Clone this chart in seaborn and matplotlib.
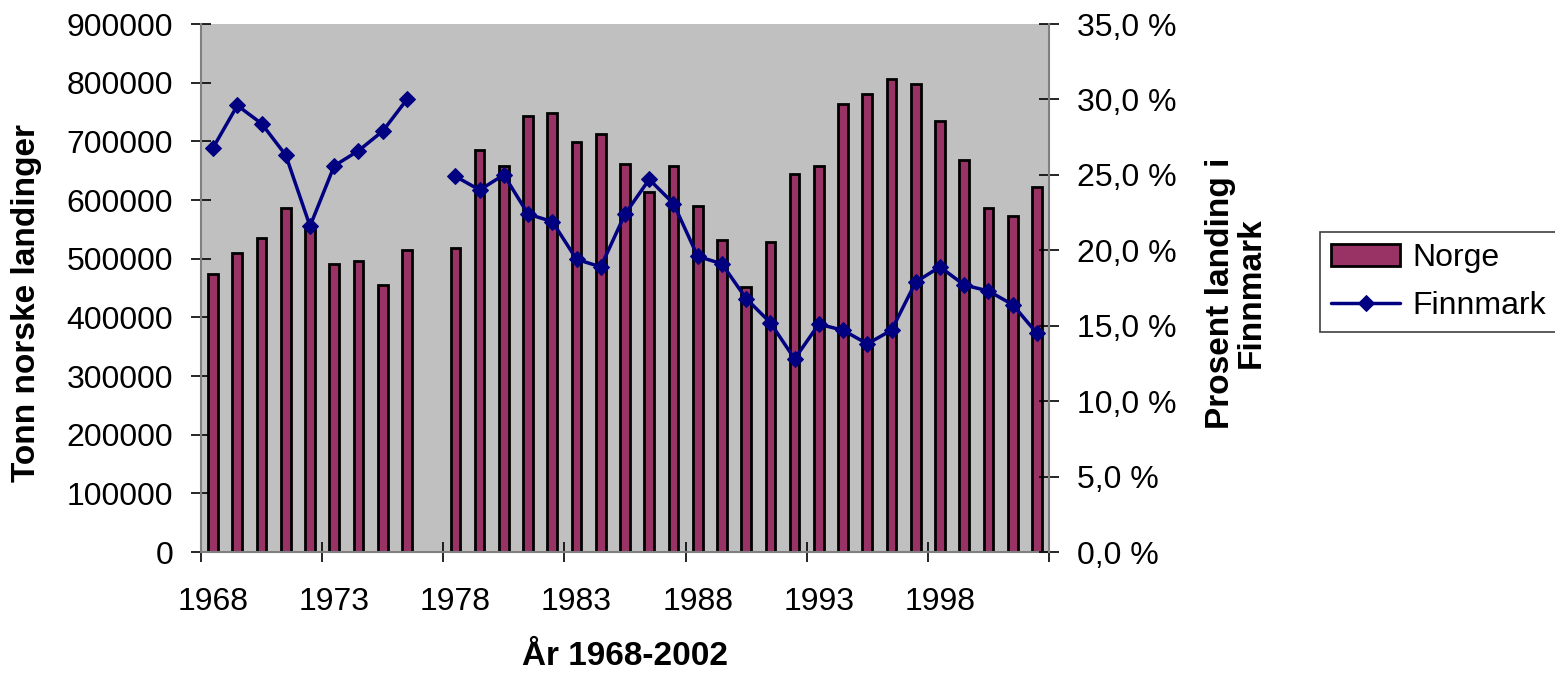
import numpy as np
import pandas as pd
import seaborn as sns
import matplotlib
matplotlib.use("Agg")
import matplotlib.pyplot as plt
from matplotlib.ticker import FuncFormatter

# data (1977 is missing)
years = [1968, 1969, 1970, 1971, 1972, 1973, 1974, 1975, 1976,
         1978, 1979, 1980, 1981, 1982, 1983, 1984, 1985, 1986, 1987,
         1988, 1989, 1990, 1991, 1992, 1993, 1994, 1995, 1996, 1997,
         1998, 1999, 2000, 2001, 2002]
norge = [474000, 510000, 536000, 587000, 555000, 491000, 496000, 455000, 514000,
         518000, 686000, 658000, 744000, 749000, 699000, 712000, 662000, 613000, 658000,
         590000, 532000, 451000, 528000, 645000, 658000, 763000, 780000, 807000, 798000,
         735000, 668000, 587000, 573000, 622000]
finnmark = [26.8, 29.6, 28.4, 26.3, 21.6, 25.6, 26.6, 27.9, 30.0,
            24.9, 24.0, 25.0, 22.4, 21.9, 19.4, 18.9, 22.4, 24.7, 23.1,
            19.6, 19.1, 16.8, 15.2, 12.8, 15.1, 14.7, 13.8, 14.7, 17.9,
            18.9, 17.7, 17.3, 16.4, 14.5]
all_years = list(range(1968, 2003))
tick_years = [1968, 1973, 1978, 1983, 1988, 1993, 1998]

sns.set_style("ticks")
plt.rcParams["font.family"] = ["Liberation Sans", "DejaVu Sans"]
for k in ("text.color", "axes.labelcolor", "xtick.color", "ytick.color"):
    plt.rcParams[k] = "black"
fs = 23      # tick labels / legend
fl = 24      # bold axis titles

df = pd.DataFrame({"year": [str(y) for y in years], "norge": norge, "finnmark": finnmark})
df["pos"] = [all_years.index(y) for y in years]
df["seg"] = np.where(df["pos"] < all_years.index(1977), 0, 1)

fig = plt.figure(figsize=(15.55, 6.75), dpi=100)
ax = fig.add_axes([201 / 1555, 123 / 675, 848 / 1555, 528 / 675])
ax.set_facecolor("#C0C0C0")

sns.barplot(data=df, x="year", y="norge", order=[str(y) for y in all_years],
            color="#993366", saturation=1, width=0.4, edgecolor="black",
            linewidth=2, ax=ax)
ax.set_xlim(-0.5, len(all_years) - 0.5)
ax.set_ylim(0, 900000)
ax.set_yticks(range(0, 900001, 100000))
ax.yaxis.set_major_formatter(FuncFormatter(lambda v, p: f"{int(v)}"))

ax2 = ax.twinx()
sns.lineplot(data=df, x="pos", y="finnmark", units="seg", estimator=None,
             color="#000080", lw=2.5, marker="D", markersize=8.5,
             markeredgecolor="#000080", ax=ax2)
ax2.set_ylim(0, 35)
ax2.set_yticks(range(0, 36, 5))
ax2.yaxis.set_major_formatter(FuncFormatter(lambda v, p: f"{v:.1f} %".replace(".", ",")))
ax.set_xlim(-0.5, len(all_years) - 0.5)

# labels centred on the category, tick marks on category borders
ax.set_xticks([all_years.index(y) for y in tick_years])
ax.set_xticklabels([str(y) for y in tick_years])
ax.set_xticks([i - 0.5 for i in range(0, 36, 5)], minor=True)
ax.tick_params(axis="x", which="major", length=0, pad=25, labelsize=fs)
ax.tick_params(axis="x", which="minor", length=15, direction="inout", width=1.2, color="black")
ax.tick_params(axis="y", length=15, direction="inout", width=1.2, pad=12.5, labelsize=fs, color="black")
ax2.tick_params(axis="y", length=15, direction="inout", width=1.2, pad=13, labelsize=fs, color="black")
ax2.tick_params(axis="x", which="both", length=0)

for a in (ax, ax2):
    a.spines["top"].set_visible(False)
    for s in ("left", "bottom", "right"):
        a.spines[s].set_color("#808080")
        a.spines[s].set_linewidth(1.5)
ax2.spines["left"].set_visible(False)
ax2.spines["bottom"].set_visible(False)
ax.spines["right"].set_visible(False)

ax.set_xlabel("År 1968-2002", fontsize=fl, fontweight="bold")
ax.xaxis.set_label_coords(0.5, -0.1686)
ax.set_ylabel("Tonn norske landinger", fontsize=fl, fontweight="bold")
ax.yaxis.set_label_coords(-0.1875, 0.4716)
ax2.set_ylabel("Prosent landing i\nFinnmark", fontsize=fl, fontweight="bold",
               rotation=90, multialignment="center", linespacing=1.0)
ax2.yaxis.set_label_coords(1.184, 0.4905)

handles = [ax.patches[0], ax2.lines[0]]
leg = fig.legend(handles, ["Norge", "Finnmark"], loc="upper left",
                 bbox_to_anchor=(1320 / 1555, 1 - 232 / 675), fontsize=fs,
                 frameon=True, fancybox=False, edgecolor="#404040", framealpha=1,
                 handlelength=2.15, handletextpad=0.4, labelspacing=0.55,
                 borderpad=0.35, borderaxespad=0)
leg.get_frame().set_linewidth(1.2)

fig.savefig("out.png", dpi=100)
